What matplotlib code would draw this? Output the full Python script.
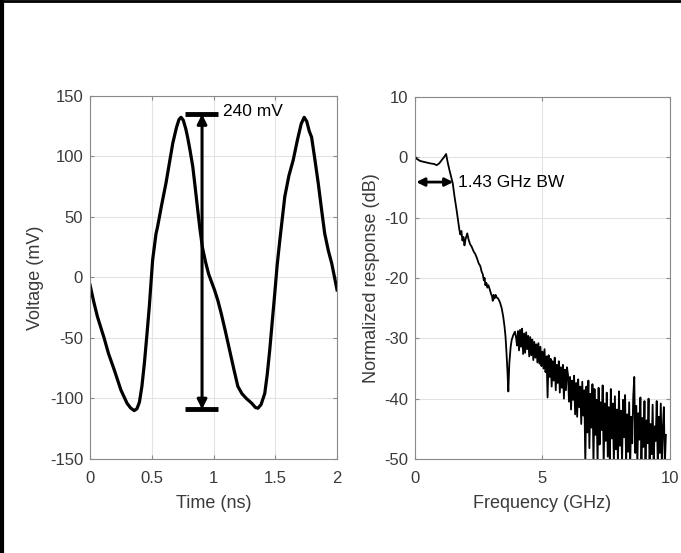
import matplotlib.pyplot as plt
from matplotlib.lines import Line2D

plt.rcParams['font.family'] = ['Liberation Sans', 'DejaVu Sans']
plt.rcParams['axes.unicode_minus'] = False

# left panel: time-domain waveform
t_ns = [0.0, 0.03, 0.06, 0.114, 0.15, 0.195, 0.25, 0.30, 0.33, 0.358, 0.38, 0.40,
        0.42, 0.44, 0.46, 0.48, 0.507, 0.534, 0.547, 0.58, 0.615, 0.645, 0.67, 0.70,
        0.72, 0.737, 0.755, 0.775, 0.79, 0.81, 0.832, 0.852, 0.872, 0.89, 0.91, 0.935,
        0.96, 0.985, 1.008, 1.035, 1.062, 1.095, 1.13, 1.165, 1.197, 1.23, 1.266, 1.31,
        1.34, 1.36, 1.385, 1.415, 1.435, 1.455, 1.475, 1.496, 1.515, 1.537, 1.577,
        1.61, 1.645, 1.68, 1.71, 1.734, 1.755, 1.775, 1.794, 1.82, 1.848, 1.875, 1.90,
        1.93, 1.957, 1.98, 2.0]
v_mv = [-6.2, -20.0, -32.4, -50.0, -63.0, -76.0, -93.0, -104.0, -108.0, -110.0, -108.5,
        -103.0, -90.0, -71.0, -48.0, -24.0, 14.5, 36.0, 42.0, 60.0, 78.0, 96.0, 111.0,
        124.0, 130.5, 132.4, 130.0, 123.0, 116.0, 105.0, 91.6, 74.0, 55.8, 40.0, 25.0,
        13.0, 3.0, -4.0, -10.3, -19.0, -29.6, -44.0, -60.0, -76.0, -90.0, -96.0, -100.0,
        -104.0, -107.5, -108.0, -105.0, -95.7, -80.0, -60.0, -37.0, -13.0, 10.0, 31.0,
        66.8, 84.0, 97.0, 114.0, 127.0, 132.4, 129.0, 121.0, 116.0, 98.0, 77.8, 56.0,
        36.5, 22.0, 11.7, 0.0, -10.3]

# right panel: normalized frequency response
f_ghz = [0.0, 0.05, 0.2, 0.4, 0.59, 0.75, 0.85, 0.95, 1.05, 1.15, 1.22, 1.28, 1.35,
         1.43, 1.48, 1.55, 1.63, 1.68, 1.74, 1.78, 1.82, 1.86, 1.90, 1.94, 1.98,
         2.05, 2.10, 2.16, 2.22, 2.30, 2.36, 2.42, 2.50, 2.56, 2.61, 2.66, 2.70,
         2.73, 2.76, 2.80, 2.84, 2.88, 2.94, 2.98, 3.02, 3.05, 3.08, 3.12, 3.16,
         3.20, 3.26, 3.33, 3.40, 3.46, 3.51, 3.55, 3.59, 3.63, 3.66, 3.70, 3.75,
         3.79, 3.85, 3.92, 3.97,
         4.00, 4.04, 4.08, 4.12, 4.16, 4.20, 4.24, 4.28, 4.32, 4.36, 4.40, 4.44,
         4.48, 4.52, 4.56, 4.60, 4.64, 4.68, 4.72, 4.76, 4.80, 4.84, 4.88, 4.92,
         4.96, 5.00, 5.04, 5.08, 5.12, 5.16, 5.20, 5.24, 5.28, 5.32, 5.36, 5.40,
         5.44, 5.48, 5.52, 5.56, 5.60, 5.64, 5.68, 5.72, 5.76, 5.80, 5.84, 5.88,
         5.92, 5.96, 6.00, 6.04, 6.08, 6.12, 6.16, 6.20, 6.24, 6.28, 6.32, 6.36,
         6.40, 6.44, 6.48, 6.52, 6.56, 6.60, 6.64, 6.68, 6.72, 6.76, 6.80, 6.84,
         6.88, 6.92, 6.96, 7.00, 7.04, 7.08, 7.12, 7.16, 7.20, 7.24, 7.28, 7.32,
         7.36, 7.40, 7.44, 7.48, 7.52, 7.56, 7.60, 7.64, 7.68, 7.72, 7.76, 7.80,
         7.84, 7.88, 7.92, 7.96, 8.00, 8.04, 8.08, 8.12, 8.16, 8.20, 8.24, 8.28,
         8.32, 8.36, 8.40, 8.44, 8.48, 8.52, 8.56, 8.60, 8.64, 8.68, 8.72, 8.76,
         8.80, 8.84, 8.88, 8.92, 8.96, 9.00, 9.04, 9.08, 9.12, 9.16, 9.20, 9.24,
         9.28, 9.32, 9.36, 9.40, 9.44, 9.48, 9.52, 9.56, 9.60, 9.64, 9.68, 9.72,
         9.76, 9.80, 9.84]
resp_db = [0.2, -0.2, -0.6, -0.8, -1.0, -1.1, -1.3, -1.0, -0.45, 0.1, 0.55, -0.8, -2.1,
           -3.5, -4.3, -6.5, -8.7, -10.2, -12.0, -12.8, -12.2, -13.8, -13.2, -14.6, -13.6,
           -12.6, -13.6, -14.4, -14.8, -15.6, -16.0, -16.6, -17.6, -18.0, -18.9, -19.4, -20.4,
           -20.0, -21.2, -20.8, -21.6, -21.2, -22.0, -22.6, -23.0, -23.8, -22.8, -23.4, -22.8,
           -23.2, -23.4, -24.0, -25.0, -26.4, -28.0, -29.7, -32.5, -35.8, -38.8, -34.1, -31.5,
           -30.3, -29.5, -28.9, -30.0,
           -31.2, -28.8, -32.0, -28.6, -31.4, -28.4, -32.6, -29.2, -32.4, -29.0, -31.8, -29.6,
           -33.0, -29.8, -32.8, -30.2, -33.6, -30.6, -33.2, -31.0, -34.0, -30.8, -34.2, -31.4,
           -34.6, -32.2, -35.0, -31.8, -35.6, -33.0, -39.8, -32.8, -36.4, -33.4, -38.0, -33.8,
           -37.0, -33.2, -38.6, -34.4, -37.4, -33.8, -39.0, -34.8, -38.2, -34.4, -40.0, -35.2,
           -38.6, -34.8, -36.0, -40.5, -36.4, -41.8, -37.0, -40.2, -36.2, -42.6, -37.4, -43.0,
           -36.8, -41.4, -38.0, -44.2, -37.2, -42.8, -38.6, -51.0, -38.0, -45.6, -37.0, -48.2,
           -39.2, -44.8, -37.6, -51.0, -38.4, -46.0, -40.2, -51.0, -38.2, -47.6, -40.6, -45.2,
           -37.8, -51.0, -40.8, -47.0, -39.0, -49.6, -41.4, -51.0, -38.4, -46.6, -40.8, -51.0,
           -39.6, -48.4, -41.8, -51.0, -38.8, -47.8, -42.0, -51.0, -40.2, -46.4, -39.4, -51.0,
           -42.6, -48.8, -40.6, -51.0, -43.0, -47.4, -39.6, -36.4, -49.0, -41.2, -51.0, -42.4,
           -46.8, -39.8, -51.0, -43.2, -48.0, -40.4, -51.0, -43.6, -47.4, -40.0, -51.0, -44.2,
           -49.2, -41.0, -51.0, -44.6, -47.0, -40.4, -51.0, -43.0, -49.0, -40.8, -51.0, -45.0,
           -41.4, -51.0, -46.0]

txt_col = '#3a3a3a'
spine_col = '#8a8a8a'
grid_col = '#e3e3e3'

fig = plt.figure(figsize=(6.81, 5.53), dpi=100)
# frame on the top and left edges only
fig.lines.append(Line2D([0.003, 0.003], [0, 1], transform=fig.transFigure,
                        color='black', linewidth=3))
fig.lines.append(Line2D([0, 1], [0.998, 0.998], transform=fig.transFigure,
                        color='black', linewidth=2))

ax1 = fig.add_axes([0.1322, 0.170, 0.3627, 0.6564])
ax2 = fig.add_axes([0.6094, 0.170, 0.3744, 0.6546])

for ax in (ax1, ax2):
    ax.grid(True, color=grid_col, linewidth=0.8)
    ax.set_axisbelow(True)
    for s in ax.spines.values():
        s.set_color(spine_col)
        s.set_linewidth(0.8)
    ax.tick_params(direction='in', length=3, width=0.8, color=spine_col,
                   labelcolor=txt_col, labelsize=12, top=True, right=True)
    ax.tick_params(axis='x', pad=9)
    ax.tick_params(axis='y', pad=5)

ax1.plot(t_ns, v_mv, color='black', linewidth=2.3, solid_joinstyle='round')
ax1.set_xlim(0, 2)
ax1.set_ylim(-150, 150)
ax1.set_xticks([0, 0.5, 1, 1.5, 2])
ax1.set_xticklabels(['0', '0.5', '1', '1.5', '2'])
ax1.set_yticks([-150, -100, -50, 0, 50, 100, 150])
ax1.set_xlabel('Time (ns)', fontsize=13, color=txt_col, labelpad=6)
ax1.set_ylabel('Voltage (mV)', fontsize=13, color=txt_col, labelpad=4)

# peak-to-peak marker
ax1.annotate('', xy=(0.907, 135), xytext=(0.907, -109),
             arrowprops=dict(arrowstyle='<|-|>', color='black', lw=2.2,
                             mutation_scale=14, shrinkA=0, shrinkB=0))
ax1.plot([0.77, 1.035], [135, 135], color='black', linewidth=3.5, solid_capstyle='butt')
ax1.plot([0.77, 1.035], [-109, -109], color='black', linewidth=3.5, solid_capstyle='butt')
ax1.text(1.08, 137, '240 mV', fontsize=12.5, va='center', ha='left', color='black')

ax2.plot(f_ghz, resp_db, color='black', linewidth=1.3)
ax2.set_xlim(0, 10)
ax2.set_ylim(-50, 10)
ax2.set_xticks([0, 5, 10])
ax2.set_yticks([-50, -40, -30, -20, -10, 0, 10])
ax2.set_xlabel('Frequency (GHz)', fontsize=13, color=txt_col, labelpad=6)
ax2.set_ylabel('Normalized response (dB)', fontsize=13, color=txt_col, labelpad=3)

ax2.annotate('', xy=(0.05, -4.1), xytext=(1.5, -4.1),
             arrowprops=dict(arrowstyle='<|-|>', color='black', lw=2.0,
                             mutation_scale=12, shrinkA=0, shrinkB=0))
ax2.text(1.68, -4.1, '1.43 GHz BW', fontsize=12.5, va='center', ha='left', color='black')

fig.savefig('out.png', dpi=100)
